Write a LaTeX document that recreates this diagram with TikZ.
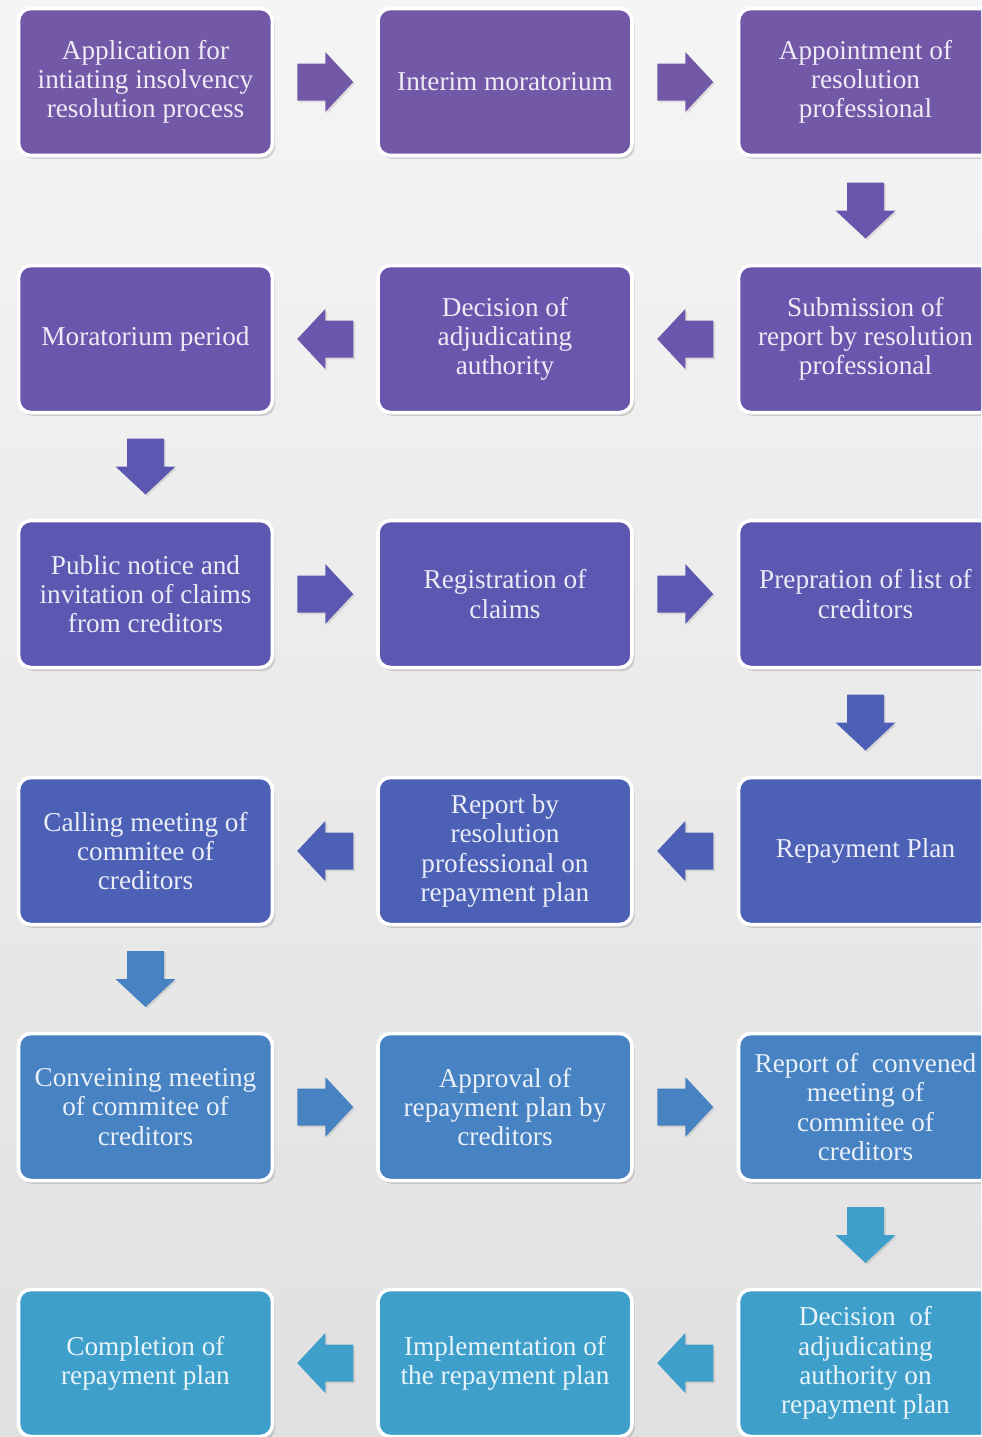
\documentclass[tikz,border=0pt]{standalone}
\usepackage{fontspec}
\setmainfont{Liberation Serif}
\usetikzlibrary{calc,shadows}
\definecolor{rowa}{HTML}{7458A8}
\definecolor{rowb}{HTML}{6A56AC}
\definecolor{rowc}{HTML}{5C58B1}
\definecolor{rowd}{HTML}{4C61B6}
\definecolor{rowe}{HTML}{4782C2}
\definecolor{rowf}{HTML}{3E9FCA}

\tikzset{
	box/.style={rectangle, rounded corners=7pt, draw=white, line width=2pt,
		fill=#1, text=#1!12!white, minimum width=5.08cm, minimum height=2.94cm,
		align=center, font=\fontsize{15.5}{16.6}\selectfont,
		drop shadow={opacity=0.3, shadow xshift=1.5pt, shadow yshift=-2pt}},
	arrowshadow/.style={drop shadow={opacity=0.2, shadow xshift=1pt, shadow yshift=-1pt}}
}

\newcommand{\flowarrow}[4]{%
	\begin{scope}[shift={($(#1)!0.5!(#2)$)}, rotate=#3]
		\fill[#4, arrowshadow] (-0.56,-0.37) -- (0,-0.37) -- (0,-0.6) -- (0.56,0)
			-- (0,0.6) -- (0,0.37) -- (-0.56,0.37) -- cycle;
	\end{scope}}

\begin{document}
\begin{tikzpicture}
	\useasboundingbox (0,0) rectangle (19.62,-28.74);
	\clip (0,0) rectangle (19.62,-28.74);
	\shade[top color=black!4, middle color=black!12, bottom color=black!12] (0,0) rectangle (19.62,-28.74);

	\node[box=rowa] (appl) at (2.91,-1.64) {Application for\\intiating insolvency\\resolution process};
	\node[box=rowa] (interim) at (10.1,-1.64) {Interim moratorium};
	\node[box=rowa] (appoint) at (17.31,-1.64) {Appointment of\\resolution\\professional};

	\node[box=rowb] (morat) at (2.91,-6.78) {Moratorium period};
	\node[box=rowb] (decision) at (10.1,-6.78) {Decision of\\adjudicating\\authority};
	\node[box=rowb] (submit) at (17.31,-6.78) {Submission of\\report by resolution\\professional};

	\node[box=rowc] (notice) at (2.91,-11.88) {Public notice and\\invitation of claims\\from creditors};
	\node[box=rowc] (regist) at (10.1,-11.88) {Registration of\\claims};
	\node[box=rowc] (credlist) at (17.31,-11.88) {Prepration of list of\\creditors};

	\node[box=rowd] (calling) at (2.91,-17.02) {Calling meeting of\\commitee of\\creditors};
	\node[box=rowd] (report) at (10.1,-17.02) {Report by\\resolution\\professional on\\repayment plan};
	\node[box=rowd] (repay) at (17.31,-17.02) {Repayment Plan};

	\node[box=rowe] (convene) at (2.91,-22.14) {Conveining meeting\\of commitee of\\creditors};
	\node[box=rowe] (approval) at (10.1,-22.14) {Approval of\\repayment plan by\\creditors};
	\node[box=rowe] (convrep) at (17.31,-22.14) {Report of\ \ convened\\meeting of\\commitee of\\creditors};

	\node[box=rowf] (complete) at (2.91,-27.26) {Completion of\\repayment plan};
	\node[box=rowf] (implement) at (10.1,-27.26) {Implementation of\\the repayment plan};
	\node[box=rowf] (adjud) at (17.31,-27.26) {Decision\ \ of\\adjudicating\\authority on\\repayment plan};

	\flowarrow{appl}{interim}{0}{rowa}
	\flowarrow{interim}{appoint}{0}{rowa}
	\flowarrow{appoint}{submit}{-90}{rowb}
	\flowarrow{submit}{decision}{180}{rowb}
	\flowarrow{decision}{morat}{180}{rowb}
	\flowarrow{morat}{notice}{-90}{rowc}
	\flowarrow{notice}{regist}{0}{rowc}
	\flowarrow{regist}{credlist}{0}{rowc}
	\flowarrow{credlist}{repay}{-90}{rowd}
	\flowarrow{repay}{report}{180}{rowd}
	\flowarrow{report}{calling}{180}{rowd}
	\flowarrow{calling}{convene}{-90}{rowe}
	\flowarrow{convene}{approval}{0}{rowe}
	\flowarrow{approval}{convrep}{0}{rowe}
	\flowarrow{convrep}{adjud}{-90}{rowf}
	\flowarrow{adjud}{implement}{180}{rowf}
	\flowarrow{implement}{complete}{180}{rowf}
\end{tikzpicture}
\end{document}
